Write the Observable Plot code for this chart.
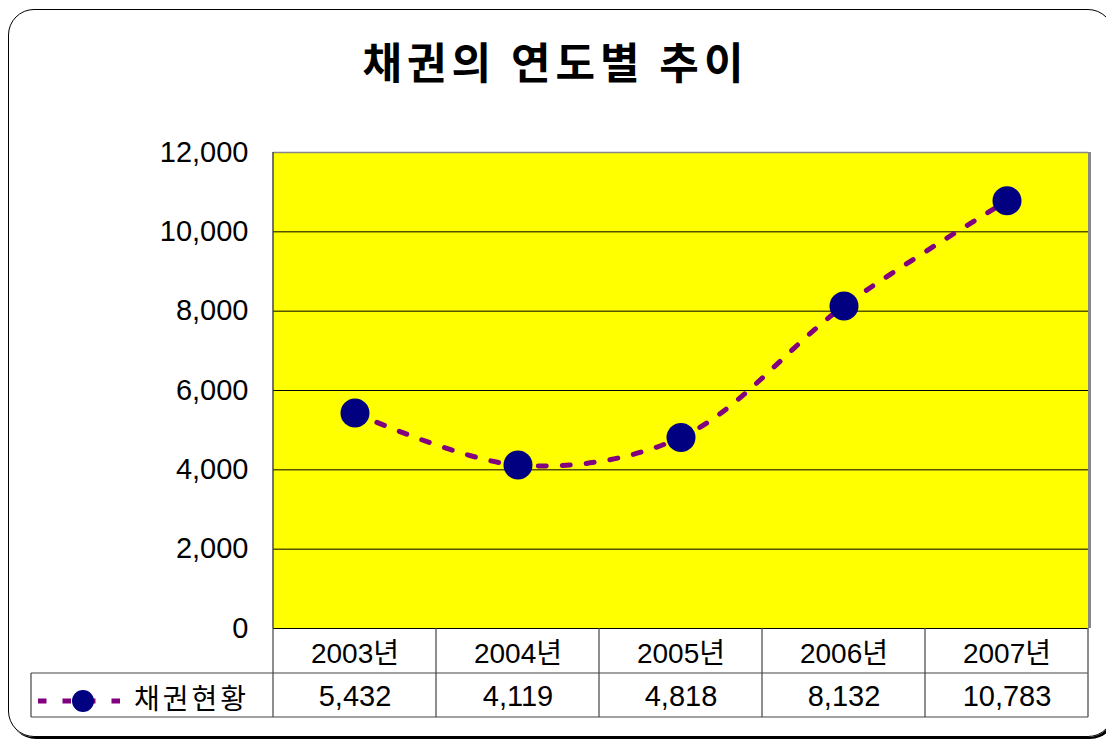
<!DOCTYPE html>
<html><head><meta charset="utf-8">
<script src="https://cdn.jsdelivr.net/npm/d3@7"></script>
<script src="https://cdn.jsdelivr.net/npm/@observablehq/plot@0.6"></script>
<style>
html,body{margin:0;padding:0;background:#fff;}
#wrap{position:relative;width:1106px;height:740px;overflow:hidden;font-family:"Liberation Sans","Noto Sans CJK KR",sans-serif;}
#box{position:absolute;left:8px;top:9px;width:1104px;height:726px;border:1.5px solid #000;border-radius:26px;box-shadow:2px 2px 0 #000;}
#title{position:absolute;left:0;top:30px;width:1106px;text-align:center;font-family:"Noto Sans CJK KR",sans-serif;font-weight:bold;font-size:43px;letter-spacing:5px;text-indent:5px;line-height:60px;color:#000;}
#chart{position:absolute;left:0;top:0;}
</style>
</head><body>
<div id="wrap"><div id="box"></div><div id="title"></div><div id="chart"></div></div>
<script>
const title = "채권의 연도별 추이";
const seriesName = "채권현황";
const years = ["2003년","2004년","2005년","2006년","2007년"];
const values = [5432, 4119, 4818, 8132, 10783];
const yTicks = [0, 2000, 4000, 6000, 8000, 10000, 12000];

const data = years.map((year, i) => ({year, value: values[i]}));
const fmt = d3.format(",");
const font = '"Liberation Sans","Noto Sans CJK KR",sans-serif';

document.getElementById("title").textContent = title;

const chart = Plot.plot({
  width: 1106, height: 740,
  marginTop: 152, marginBottom: 112, marginLeft: 273, marginRight: 18,
  style: {background: "transparent", fontFamily: font, color: "#000", overflow: "visible"},
  x: {type: "band", domain: years, padding: 0, label: null},
  y: {domain: [0, 12000], label: null},
  marks: [
    Plot.frame({fill: "#ffff00", stroke: null}),
    Plot.ruleY(yTicks.slice(1, -1), {stroke: "#000", strokeWidth: 1}),
    Plot.ruleY([yTicks[yTicks.length - 1]], {stroke: "#888", strokeWidth: 1.5}),
    Plot.ruleY([0], {stroke: "#000", strokeWidth: 1}),
    Plot.line(data, {x: "year", y: "value", curve: "catmull-rom", stroke: "#800080", strokeWidth: 5, strokeDasharray: "8,16"}),
    Plot.dot(data, {x: "year", y: "value", r: 14.5, fill: "#000080", stroke: null}),
    Plot.axisY({ticks: yTicks, tickFormat: d => fmt(d), tickSize: 0, tickPadding: 25, fontSize: 29, label: null}),
    Plot.axisX({tickSize: 0, tickPadding: 15, fontSize: 28, label: null}),
    Plot.text(data, {x: "year", text: d => fmt(d.value), frameAnchor: "bottom", dy: 77, fontSize: 29, fill: "#000"})
  ]
});
document.getElementById("chart").appendChild(chart);

// table grid + frame edges derived from the plot scales
const xs = chart.scale("x"), ys = chart.scale("y");
const x0 = xs.range[0], x1 = xs.range[1];
const yTop = ys.apply(yTicks[yTicks.length - 1]), yBase = ys.apply(0);
const row1 = yBase + 45, row2 = yBase + 89;
const legendLeft = 31;
const svg = d3.select(chart);
const g = svg.append("g");
const line = (xa, ya, xb, yb, stroke, w) => g.append("line").attr("x1", xa).attr("y1", ya).attr("x2", xb).attr("y2", yb).attr("stroke", stroke).attr("stroke-width", w);
// plot-area edges
line(x0, yTop, x0, yBase, "#444", 1.5);
line(x1 + 1.5, yTop, x1 + 1.5, yBase, "#888", 3);
// table lines
line(legendLeft, row1, x1, row1, "#444", 1.2);
line(legendLeft, row2, x1, row2, "#444", 1.2);
line(legendLeft, row1, legendLeft, row2, "#444", 1.2);
line(x0, yBase, x0, row2, "#444", 1.2);
years.forEach((yr, i) => { if (i > 0) line(xs.apply(yr), yBase, xs.apply(yr), row2, "#444", 1.2); });
line(x1, yBase, x1, row2, "#666", 1.5);
// legend
const ly = (row1 + row2) / 2 + 6;
g.append("line").attr("x1", 38).attr("x2", 121).attr("y1", ly).attr("y2", ly)
  .attr("stroke", "#800080").attr("stroke-width", 5).attr("stroke-dasharray", "8.5,16");
g.append("circle").attr("cx", 83).attr("cy", ly).attr("r", 11).attr("fill", "#000080");
g.append("text").attr("x", 134).attr("y", ly - 2).attr("dy", "0.35em")
  .attr("text-anchor", "start")
  .attr("font-family", '"Noto Sans CJK KR",sans-serif').attr("font-size", 28)
  .attr("letter-spacing", 3).attr("fill", "#000").text(seriesName);
</script>
</body></html>
